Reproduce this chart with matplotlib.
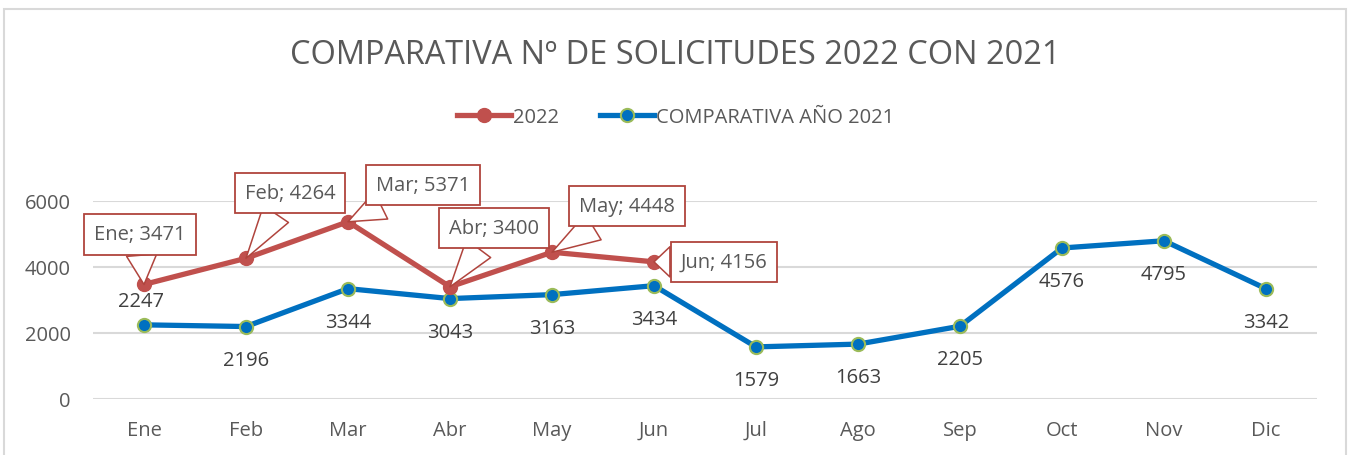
import matplotlib.pyplot as plt
from matplotlib.patches import Rectangle
from matplotlib.lines import Line2D

# data
meses = ["Ene", "Feb", "Mar", "Abr", "May", "Jun", "Jul", "Ago", "Sep", "Oct", "Nov", "Dic"]
sol_2022 = [3471, 4264, 5371, 3400, 4448, 4156]
sol_2021 = [2247, 2196, 3344, 3043, 3163, 3434, 1579, 1663, 2205, 4576, 4795, 3342]

# label placement (pixels, relative to the point)
off_2021 = [(-3, 24)] + [(0, -33)] * 11
off_2022 = [(-4, 50), (44, 65), (75, 37), (44, 59), (75, 46), (70, 0)]

plt.rcParams['font.family'] = ['Open Sans', 'DejaVu Sans']
gris = "#595959"
rojo = "#C0504D"
azul = "#0070C0"
verde = "#9BBB59"
borde = "#B0443D"
fs = 14.5

fig = plt.figure(figsize=(13.51, 4.56), dpi=100)
fig.patches.append(Rectangle((4 / 1351, -0.1), 1342 / 1351, 1.1 - 10 / 456,
                             transform=fig.transFigure, fill=False,
                             edgecolor="#D9D9D9", linewidth=1.5))

ax = fig.add_axes([93 / 1351, 56 / 456, 1224 / 1351, 198 / 456])
x = list(range(len(meses)))

ax.plot(x, sol_2021, color=azul, linewidth=3.8, marker="o", markersize=9.5,
        markerfacecolor=azul, markeredgecolor=verde, markeredgewidth=1.5,
        solid_capstyle="round", zorder=3)
ax.plot(x[:len(sol_2022)], sol_2022, color=rojo, linewidth=3.8, marker="o",
        markersize=10, markerfacecolor=rojo, markeredgecolor=rojo,
        solid_capstyle="round", zorder=4)

for i, v in enumerate(sol_2021):
    ax.annotate(str(v), (i, v), xytext=off_2021[i], textcoords="offset pixels",
                ha="center", va="center", fontsize=fs, color="#404040",
                annotation_clip=False)

for i, v in enumerate(sol_2022):
    ax.annotate(f"{meses[i]}; {v}", (i, v), xytext=off_2022[i],
                textcoords="offset pixels", ha="center", va="center",
                fontsize=fs, color=gris, zorder=6, annotation_clip=False,
                bbox=dict(boxstyle="square,pad=0.5", fc="white", ec=borde, lw=1.3),
                arrowprops=dict(arrowstyle="wedge,tail_width=1.5,shrink_factor=0.5",
                                fc="white", ec=borde, lw=1.1, shrinkA=0, shrinkB=0))

ax.set_xlim(-0.5, 11.5)
ax.set_ylim(0, 6000)
ax.set_yticks([0, 2000, 4000, 6000])
ax.set_xticks(x)
ax.set_xticklabels(meses)
ax.grid(axis="y", color="#D9D9D9", linewidth=1.5)
ax.set_axisbelow(True)
for s in ax.spines.values():
    s.set_visible(False)
ax.tick_params(axis="both", length=0, labelsize=fs, labelcolor=gris)
ax.tick_params(axis="x", pad=15)
ax.tick_params(axis="y", pad=16)

fig.text(0.5, 1 - 55 / 456, "COMPARATIVA Nº DE SOLICITUDES 2022 CON 2021",
         ha="center", va="center", fontsize=23.4, color=gris)

handles = [
    Line2D([], [], color=rojo, linewidth=3.8, marker="o", markersize=10,
           markerfacecolor=rojo, markeredgecolor=rojo),
    Line2D([], [], color=azul, linewidth=3.8, marker="o", markersize=9.5,
           markerfacecolor=azul, markeredgecolor=verde, markeredgewidth=1.5),
]
fig.legend(handles, ["2022", "COMPARATIVA AÑO 2021"], loc="center",
           bbox_to_anchor=(0.5, 1 - 118 / 456), ncol=2, frameon=False,
           fontsize=fs, labelcolor=gris, handlelength=2.7, handletextpad=0.1,
           columnspacing=2.0)

fig.savefig("out.png", dpi=100)
